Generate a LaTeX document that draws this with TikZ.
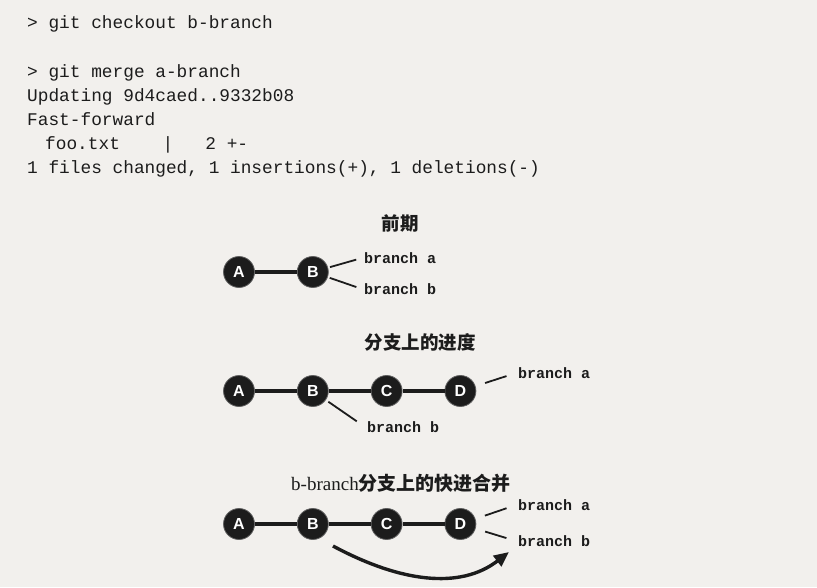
\documentclass[tikz,border=0pt]{standalone}
\usepackage{fontspec}
\setmainfont{Liberation Serif}
\setmonofont{Liberation Mono}
\setsansfont{Liberation Sans}
\newfontfamily\cjk{Noto Sans CJK SC}
\usetikzlibrary{positioning,arrows.meta}
\definecolor{paper}{RGB}{242,240,237}
\definecolor{ink}{RGB}{28,28,28}
\begin{document}
\begin{tikzpicture}[
x=1pt, y=-1pt,
node distance=42pt,
commit/.style={circle, fill=ink, draw=ink!70, line width=0.8pt, minimum size=31pt, inner sep=0pt, text=white, font=\sffamily\bfseries\fontsize{16}{16}\selectfont},
edge/.style={line width=3.2pt, ink},
ptr/.style={line width=1.8pt, ink, shorten <=2pt, shorten >=6pt},
ref/.style={anchor=west, inner sep=2pt, text=ink, font=\ttfamily\bfseries\fontsize{15}{15}\selectfont},
code/.style={anchor=base west, inner sep=0pt, text=ink, font=\ttfamily\fontsize{17.8}{17.8}\selectfont},
title/.style={text=ink, inner sep=0pt, font=\cjk\bfseries\fontsize{18.5}{18.5}\selectfont}
]
\fill[paper] (0,0) rectangle (817,587);
\useasboundingbox (0,0) rectangle (817,587);

% console output
\node[code] (c1) at (27,28) {> git checkout b-branch};
\node[code] (c2) at (27,77) {> git merge a-branch};
\node[code] (c3) at (27,101) {Updating 9d4caed..9332b08};
\node[code] (c4) at (27,125) {Fast-forward};
\node[code] (c5) at (45,149) {foo.txt\ \ \ \ |\ \ \ 2 +-};
\node[code] (c6) at (27,173) {1 files changed, 1 insertions(+), 1 deletions(-)};

% before
\node[title] (t1) at (400,223) {前期};
\node[commit] (A1) at (239,272) {A};
\node[commit, right=of A1] (B1) {B};
\node[ref] (ra1) at (362,258) {branch a};
\node[ref] (rb1) at (362,289) {branch b};
\draw[edge] (A1) -- (B1);
\draw[ptr] (B1) -- (ra1.west);
\draw[ptr] (B1) -- (rb1.west);

% progress on a branch
\node[title] (t2) at (420,342) {分支上的进度};
\node[commit] (A2) at (239,391) {A};
\node[commit, right=of A2] (B2) {B};
\node[commit, right=of B2] (C2) {C};
\node[commit, right=of C2] (D2) {D};
\node[ref] (ra2) at (516,373) {branch a};
\node[ref] (rb2) at (365,427) {branch b};
\draw[edge] (A2) -- (B2) -- (C2) -- (D2);
\draw[ptr, shorten <=10pt, shorten >=10pt] (D2) -- (ra2.west);
\draw[ptr, shorten <=3pt, shorten >=10pt] (B2) -- (rb2.west);

% fast-forward of b-branch
\node[title, font=\cjk\bfseries\fontsize{19}{19}\selectfont] (t3) at (401,483) {{\rmfamily\mdseries b-branch}分支上的快进合并};
\node[commit] (A3) at (239,524) {A};
\node[commit, right=of A3] (B3) {B};
\node[commit, right=of B3] (C3) {C};
\node[commit, right=of C3] (D3) {D};
\node[ref] (ra3) at (516,505) {branch a};
\node[ref] (rb3) at (516,541) {branch b};
\draw[edge] (A3) -- (B3) -- (C3) -- (D3);
\draw[ptr, shorten <=10pt, shorten >=10pt] (D3) -- (ra3.west);
\draw[ptr, shorten <=10pt, shorten >=10pt] (D3) -- (rb3.west);
\coordinate (ff0) at (333,546);
\coordinate (ff1) at (509,552);
\draw[line width=3.4pt, ink, -{Triangle[length=15pt, width=13pt]}]
  (ff0) .. controls (400,582) and (460,590) .. (ff1);
\end{tikzpicture}
\end{document}
